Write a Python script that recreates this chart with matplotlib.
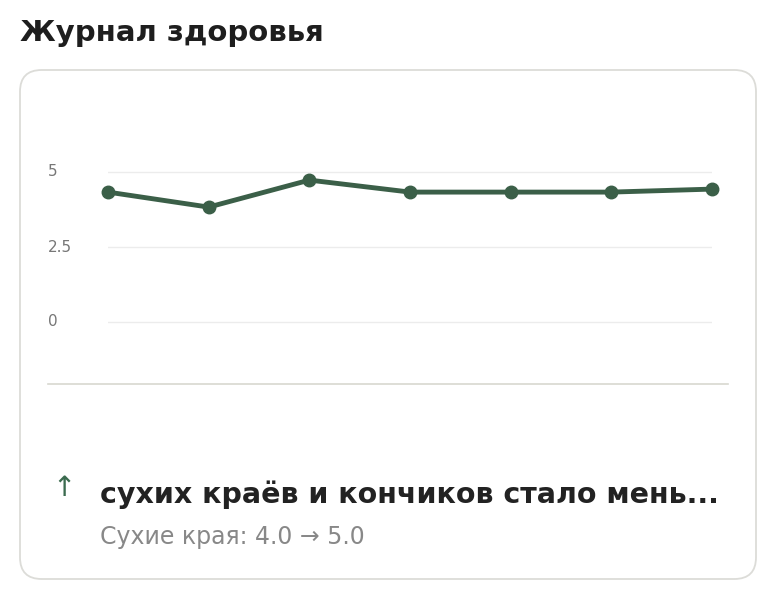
import matplotlib
matplotlib.use("Agg")
import matplotlib.pyplot as plt
from matplotlib.patches import FancyBboxPatch

days = list(range(7))
values = [4.33, 3.83, 4.73, 4.33, 4.33, 4.33, 4.43]
yticks = [0, 2.5, 5]
yticklabels = ["0", "2.5", "5"]
title = "Журнал здоровья"
headline = "сухих краёв и кончиков стало мень..."
subline = "Сухие края: 4.0 → 5.0"

W, H = 774, 598
fig = plt.figure(figsize=(W/100, H/100), dpi=100)
fig.patch.set_facecolor("white")

def fx(px): return px / W
def fy(py): return 1 - py / H

card = FancyBboxPatch((fx(20), fy(579)), fx(736), (579-70)/H,
                      boxstyle="round,pad=0,rounding_size=0.028",
                      transform=fig.transFigure, facecolor="white",
                      edgecolor="#dcdcd8", linewidth=1.3, mutation_aspect=W/H,
                      zorder=-10)
fig.patches.append(card)

fig.text(fx(20), fy(33), title, fontsize=21, fontweight="bold", color="#1e1e1e", va="center")

top, bot = 140, 340
ax = fig.add_axes([fx(108), fy(bot), fx(712-108), (bot-top)/H])
ax.set_zorder(5)
ax.set_facecolor("none")
v_top = (322 - top) / 30.0
v_bot = (322 - bot) / 30.0
ax.set_ylim(v_bot, v_top)
ax.set_xlim(0, 6)
for t in yticks:
    ax.axhline(t, color="#ececec", lw=1, zorder=0)
ax.plot(days, values, color="#3b5f48", lw=3.5, marker="o", ms=9, clip_on=False, zorder=3)
ax.set_xticks([])
ax.set_yticks([])
for s in ax.spines.values():
    s.set_visible(False)
for t, l in zip(yticks, yticklabels):
    ax.text(-(108-48)/100.67, t, l, fontsize=11, color="#777777", va="center", ha="left")

fig.add_artist(plt.Line2D([fx(48), fx(728)], [fy(384), fy(384)], color="#d8d8d0", lw=1.2))

fig.text(fx(52), fy(488), "↑", fontsize=20, color="#3b6b4f", va="center")
fig.text(fx(100), fy(495), headline, fontsize=20.5, fontweight="bold", color="#222222", va="center")
fig.text(fx(100), fy(537), subline, fontsize=17, color="#888888", va="center")

fig.savefig("out.png", dpi=100, facecolor="white")
